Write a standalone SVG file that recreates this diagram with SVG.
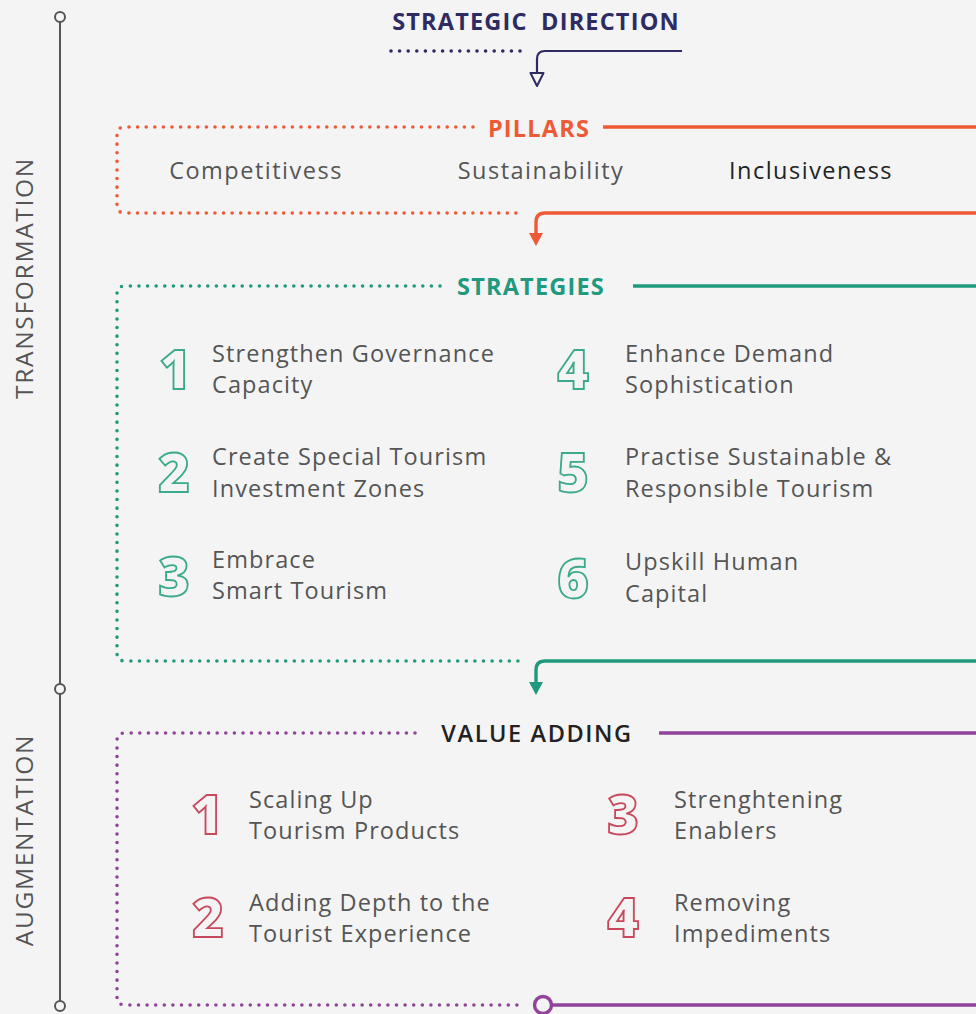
<svg xmlns="http://www.w3.org/2000/svg" width="976" height="1014" viewBox="0 0 976 1014">
  <defs>
    <style>
      .axis { stroke: #555; stroke-width: 2; fill: none; }
      .axisdot { stroke: #555; stroke-width: 2; fill: #f4f4f4; }
      .axislabel { font-family: "Open Sans", "Liberation Sans", sans-serif; font-size: 24.5px; fill: #555; letter-spacing: 1.7px; text-anchor: middle; }
      .dots { fill: none; stroke-width: 3.6; stroke-linecap: round; stroke-dasharray: 0 8.6; }
      .solid { fill: none; stroke-width: 3.4; }
      .head { font-family: "Open Sans", "Liberation Sans", sans-serif; font-size: 23.5px; font-weight: 700; letter-spacing: 1.2px; text-anchor: middle; }
      .item { font-family: "Open Sans", "Liberation Sans", sans-serif; font-size: 23.5px; fill: #555; letter-spacing: 1.1px; }
      .pillar { font-family: "Open Sans", "Liberation Sans", sans-serif; font-size: 23.5px; fill: #555; letter-spacing: 1.5px; text-anchor: middle; }
      .num { font-family: "Open Sans", "Liberation Sans", sans-serif; font-size: 54px; font-weight: 800; fill: #f4f4f4; stroke-width: 1.8; text-anchor: middle; }
      .teal { stroke: #1f9a7e; }
      .orange { stroke: #ee5a35; }
      .purple { stroke: #91449a; }
      .navy { stroke: #2e2b63; }
    </style>
  </defs>

  <rect width="976" height="1014" fill="#f4f4f4"/>

  <!-- timeline axis on the left -->
  <g id="axis">
    <line class="axis" x1="60" y1="22" x2="60" y2="1001"/>
    <circle class="axisdot" cx="60" cy="17" r="5"/>
    <circle class="axisdot" cx="60" cy="689" r="5"/>
    <circle class="axisdot" cx="60" cy="1006" r="5"/>
    <text class="axislabel" transform="translate(33 278) rotate(-90)">TRANSFORMATION</text>
    <text class="axislabel" transform="translate(33 840) rotate(-90)">AUGMENTATION</text>
  </g>

  <!-- strategic direction heading -->
  <g id="direction">
    <text class="head" x="536" y="30" fill="#2e2b63" style="word-spacing:6px">STRATEGIC DIRECTION</text>
  </g>

  <!-- pillars -->
  <g id="pillars">
    <text class="head" x="539" y="137" fill="#ee5a35">PILLARS</text>
    <text class="pillar" x="256" y="179">Competitivess</text>
    <text class="pillar" x="541" y="179">Sustainability</text>
    <text class="pillar" x="811" y="179" style="fill:#222">Inclusiveness</text>
  </g>

  <!-- strategies -->
  <g id="strategies">
    <text class="head" x="531" y="295" fill="#1f9a7e">STRATEGIES</text>
    <text class="num" x="175" y="389" stroke="#3aa98c">1</text>
    <text class="num" x="174" y="492" stroke="#3aa98c">2</text>
    <text class="num" x="174" y="596" stroke="#3aa98c">3</text>
    <text class="num" x="573" y="389" stroke="#3aa98c">4</text>
    <text class="num" x="573" y="492" stroke="#3aa98c">5</text>
    <text class="num" x="573" y="598" stroke="#3aa98c">6</text>
    <text class="item" x="212" y="362">Strengthen Governance</text>
    <text class="item" x="212" y="393">Capacity</text>
    <text class="item" x="212" y="465">Create Special Tourism</text>
    <text class="item" x="212" y="497">Investment Zones</text>
    <text class="item" x="212" y="568">Embrace</text>
    <text class="item" x="212" y="599">Smart Tourism</text>
    <text class="item" x="625" y="362">Enhance Demand</text>
    <text class="item" x="625" y="393">Sophistication</text>
    <text class="item" x="625" y="465">Practise Sustainable &amp;</text>
    <text class="item" x="625" y="497">Responsible Tourism</text>
    <text class="item" x="625" y="570">Upskill Human</text>
    <text class="item" x="625" y="602">Capital</text>
  </g>

  <!-- value adding -->
  <g id="value-adding">
    <text class="head" x="537" y="742" fill="#222" style="font-weight:600;letter-spacing:1.6px">VALUE ADDING</text>
    <text class="num" x="207" y="834" stroke="#c8485c">1</text>
    <text class="num" x="208" y="937" stroke="#c8485c">2</text>
    <text class="num" x="623" y="834" stroke="#c8485c">3</text>
    <text class="num" x="623" y="937" stroke="#c8485c">4</text>
    <text class="item" x="249" y="808">Scaling Up</text>
    <text class="item" x="249" y="839">Tourism Products</text>
    <text class="item" x="249" y="911">Adding Depth to the</text>
    <text class="item" x="249" y="942">Tourist Experience</text>
    <text class="item" x="674" y="808">Strenghtening</text>
    <text class="item" x="674" y="839">Enablers</text>
    <text class="item" x="674" y="911">Removing</text>
    <text class="item" x="674" y="942">Impediments</text>
  </g>

  <!-- connectors and frames -->
  <g id="connectors">
    <!-- strategic direction -> pillars -->
    <path class="dots navy" d="M391 51 H524" stroke-width="3.2"/>
    <path fill="none" stroke="#2e2b63" stroke-width="2.2" d="M682 51 H545 Q537 51 537 59 V73"/>
    <path d="M530.5 73 H543.5 L537 86 Z" fill="#f4f4f4" stroke="#2e2b63" stroke-width="2" stroke-linejoin="round"/>

    <!-- pillars frame -->
    <path class="dots orange" d="M473 127 H125 Q117 127 117 135 V205 Q117 213 125 213 H522"/>
    <path class="solid orange" d="M603 127 H976"/>
    <path class="solid orange" d="M976 213 H545 Q536 213 536 222 V234"/>
    <path d="M529 233 H543 L536 246 Z" fill="#ee5a35"/>

    <!-- strategies frame -->
    <path class="dots teal" d="M440 286 H125 Q117 286 117 294 V653 Q117 661 125 661 H522"/>
    <path class="solid teal" d="M633 286 H976"/>
    <path class="solid teal" d="M976 661 H545 Q536 661 536 670 V683"/>
    <path d="M529 682 H543 L536 695 Z" fill="#1f9a7e"/>

    <!-- value adding frame -->
    <path class="dots purple" d="M415 733 H125 Q117 733 117 741 V997 Q117 1005 125 1005 H525"/>
    <path class="solid purple" d="M659 733 H976"/>
    <circle cx="543" cy="1005" r="8.5" fill="#f4f4f4" stroke="#91449a" stroke-width="3.4"/>
    <path class="solid purple" d="M552 1005 H976"/>
  </g>
</svg>
